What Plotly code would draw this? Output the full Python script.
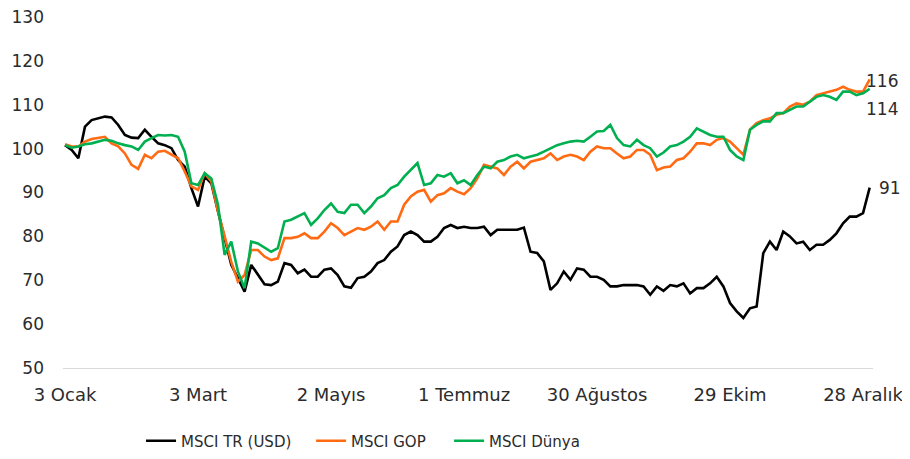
import pandas as pd
import plotly.graph_objects as go

# ---- data (one value every 3 days from 3 Jan 2020) ----
start_date = "2020-01-03"
step = "3D"

msci_tr = [100.8, 99.7, 97.8, 105.0, 106.5, 106.9, 107.3, 107.1, 105.4, 103.1,
           102.5, 102.4, 104.3, 102.7, 101.2, 100.8, 100.1, 97.4, 95.9, 91.0,
           86.8, 93.6, 92.1, 85.7, 79.6, 73.5, 70.5, 67.4, 73.5, 71.2,
           69.1, 68.9, 69.7, 73.9, 73.5, 71.6, 72.4, 70.8, 70.8, 72.4,
           72.7, 71.2, 68.6, 68.3, 70.5, 70.8, 72.0, 73.9, 74.6, 76.5,
           77.7, 80.3, 81.1, 80.3, 78.8, 78.8, 79.9, 81.9, 82.6, 81.9,
           82.2, 81.9, 81.9, 82.2, 80.3, 81.5, 81.5, 81.5, 81.5, 82.0,
           76.5, 76.2, 74.3, 67.8, 69.3, 72.0, 70.1, 72.7, 72.4, 70.8,
           70.8, 70.1, 68.6, 68.6, 68.9, 68.9, 68.9, 68.6, 66.7, 68.6,
           67.6, 68.9, 68.6, 69.3, 67.0, 68.2, 68.2, 69.3, 70.8, 68.6,
           64.8, 62.9, 61.4, 63.6, 64.0, 76.2, 78.8, 76.9, 81.1, 80.0,
           78.4, 78.8, 76.9, 78.1, 78.1, 79.2, 80.7, 83.0, 84.5, 84.5,
           85.3, 91.1]

msci_gop = [101.0, 100.5, 100.5, 101.6, 102.2, 102.5, 102.7, 101.2, 100.5, 98.9,
            96.3, 95.4, 98.6, 97.8, 99.3, 99.5, 98.6, 97.8, 94.8, 91.4,
            90.6, 94.4, 92.5, 85.7, 80.0, 74.2, 69.7, 71.2, 76.9, 76.9,
            75.4, 74.6, 75.0, 79.6, 79.6, 79.9, 80.7, 79.6, 79.6, 81.1,
            83.0, 81.9, 80.3, 81.1, 81.9, 81.5, 82.2, 83.4, 81.5, 83.4,
            83.4, 87.2, 89.1, 90.2, 90.6, 87.9, 89.4, 89.8, 91.0, 90.2,
            89.6, 91.0, 93.2, 96.3, 95.9, 95.5, 94.0, 95.9, 97.0, 95.5,
            97.0, 97.4, 97.8, 98.9, 97.4, 98.2, 98.6, 98.2, 97.4, 99.3,
            100.5, 100.1, 100.1, 98.9, 97.8, 98.2, 99.7, 99.7, 98.6, 95.1,
            95.7, 95.9, 97.4, 97.8, 99.3, 101.2, 101.2, 100.8, 102.0, 102.4,
            101.6, 100.1, 98.6, 104.3, 105.8, 106.5, 106.9, 107.7, 108.1, 109.6,
            110.3, 110.0, 110.7, 112.2, 112.6, 113.0, 113.4, 114.1, 113.4, 113.0,
            113.0, 115.8]

msci_dunya = [100.8, 100.2, 100.5, 101.0, 101.2, 101.6, 102.0, 101.8, 101.2, 100.8,
              100.5, 99.7, 101.6, 102.4, 103.1, 103.0, 103.1, 102.7, 99.3, 92.1,
              91.7, 94.4, 93.2, 87.2, 75.8, 78.8, 72.0, 68.2, 78.8, 78.4,
              77.5, 76.5, 77.3, 83.4, 83.8, 84.5, 85.3, 82.6, 84.1, 86.0,
              87.5, 85.6, 85.3, 87.2, 87.2, 85.3, 86.8, 88.7, 89.4, 91.0,
              91.7, 93.6, 95.1, 96.7, 91.7, 92.1, 94.0, 93.6, 94.4, 92.1,
              92.8, 91.7, 94.0, 95.9, 95.5, 97.0, 97.4, 98.2, 98.6, 97.8,
              98.2, 98.6, 99.3, 100.1, 100.8, 101.2, 101.6, 101.8, 101.6, 102.7,
              103.9, 104.0, 105.4, 102.4, 100.8, 100.5, 102.0, 100.8, 100.1, 98.2,
              99.1, 100.5, 100.8, 101.6, 102.7, 104.6, 103.9, 103.1, 102.7, 102.7,
              99.7, 98.2, 97.4, 104.3, 105.4, 106.2, 106.2, 108.1, 108.1, 108.8,
              109.6, 109.6, 110.7, 111.8, 112.2, 111.8, 111.1, 113.0, 113.0, 112.2,
              112.6, 113.6]

series_names = ["MSCI TR (USD)", "MSCI GOP", "MSCI Dünya"]
series_colors = ["#000000", "#FF6A13", "#00B050"]

tick_dates = ["2020-01-03", "2020-03-03", "2020-05-02", "2020-07-01",
              "2020-08-30", "2020-10-29", "2020-12-28"]
tick_labels = ["3 Ocak", "3 Mart", "2 Mayıs", "1 Temmuz",
               "30 Ağustos", "29 Ekim", "28 Aralık"]

dates = pd.date_range(start_date, periods=len(msci_tr), freq=step)

FONT = "DejaVu Sans"
TXT = "#2b2b2b"

fig = go.Figure()
all_series = [msci_tr, msci_gop, msci_dunya]
legend_ids = ["legend", "legend2", "legend3"]
for name, vals, col, lg in zip(series_names, all_series, series_colors, legend_ids):
    fig.add_trace(go.Scatter(x=dates, y=vals, name=name, mode="lines",
                             line=dict(color=col, width=2.6), legend=lg))

# end labels
label_shift = [(7, 0), (-6, -2), (-6, -20)]  # (xshift, yshift) for TR, GOP, Dünya
for vals, (xs, ys) in zip(all_series, label_shift):
    fig.add_annotation(x=dates[-1], y=vals[-1], text=f"{round(vals[-1])}",
                       showarrow=False, xanchor="left", yanchor="middle",
                       xshift=xs, yshift=ys,
                       font=dict(family=FONT, size=17, color=TXT))

legend_common = dict(orientation="h", xref="container", yref="container",
                     xanchor="left", yanchor="middle", y=0.040,
                     font=dict(family=FONT, size=15, color=TXT),
                     bgcolor="rgba(0,0,0,0)")
# the page body adds an 8px margin, so the figure is 902x451
fig.update_layout(
    width=902, height=451,
    margin=dict(l=55, r=37, t=9, b=91, autoexpand=False),
    paper_bgcolor="white", plot_bgcolor="white",
    showlegend=True,
    legend=dict(x=0.1475, **legend_common),
    legend2=dict(x=0.336, **legend_common),
    legend3=dict(x=0.489, **legend_common),
    font=dict(family=FONT, color=TXT),
)
fig.update_xaxes(
    range=["2020-01-02 02:00", "2021-01-01 12:00"],
    tickmode="array", tickvals=tick_dates, ticktext=tick_labels,
    showgrid=False, zeroline=False, showline=True, linecolor="#d9d9d9", linewidth=1,
    ticks="", ticklabelstandoff=10, ticklabeloverflow="allow",
    tickfont=dict(family=FONT, size=18, color=TXT),
)
fig.update_yaxes(
    range=[50, 130], dtick=10, tick0=50,
    showgrid=False, zeroline=False, showline=False,
    ticks="", ticklabelstandoff=18, ticklabeloverflow="allow",
    tickfont=dict(family=FONT, size=17, color=TXT),
)

fig.write_html("out.html")
